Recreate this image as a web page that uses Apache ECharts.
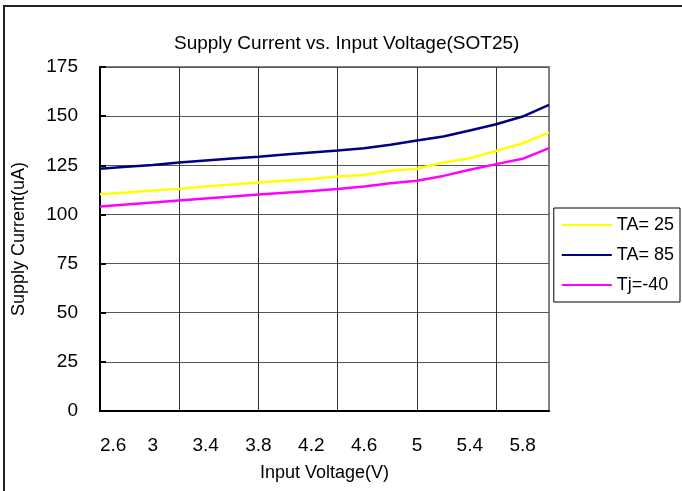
<!DOCTYPE html>
<html>
<head>
<meta charset="utf-8">
<script src="https://cdn.jsdelivr.net/npm/echarts@6/dist/echarts.min.js"></script>
<style>html,body{margin:0;padding:0;background:#fff}#c{width:682px;height:491px}</style>
</head>
<body>
<div id="c"></div>
<script>
var voltages = ['2.6','2.8','3','3.2','3.4','3.6','3.8','4','4.2','4.4','4.6','4.8','5','5.2','5.4','5.6','5.8','6'];
var ta25 = [110.3,111.2,112.2,113.0,114.2,115.2,116.2,117.1,118.0,119.3,120.1,122.2,123.2,126.4,128.6,132.3,136.2,141.6];
var ta85 = [123.2,124.2,125.2,126.4,127.4,128.4,129.4,130.5,131.5,132.5,133.7,135.4,137.6,139.6,142.7,145.9,149.8,155.7];
var tjm40 = [104.0,105.1,106.1,107.1,108.1,109.1,110.1,111.0,111.9,112.9,114.2,115.9,117.1,119.6,122.7,125.6,128.3,133.7];
var seriesNames = ['TA= 25','TA= 85','Tj=-40'];
var yTicks = {min:0, max:175, interval:25};

var FONT = 'Liberation Sans, Arial, sans-serif';
var chart = echarts.init(document.getElementById('c'));
function line(name, data, color){
  return {name:name, type:'line', data:data, symbol:'none', showSymbol:false,
    lineStyle:{color:color, width:2.5}, itemStyle:{color:color}, animation:false};
}
chart.setOption({
  animation:false,
  backgroundColor:'#fff',
  title:{text:'Supply Current vs. Input Voltage(SOT25)', left:174, top:34, padding:0,
    textStyle:{fontFamily:FONT, fontSize:19, fontWeight:'normal', color:'#000'}},
  grid:{left:100, right:133, top:67, bottom:80, show:true, borderColor:'#808080', borderWidth:2, backgroundColor:'transparent'},
  legend:{orient:'vertical', right:2, top:208, padding:[8,6,8,8], itemGap:12, itemWidth:50, itemHeight:14,
    borderColor:'#000', borderWidth:1, icon:'path://M0,6 L50,6 L50,8 L0,8 Z',
    textStyle:{fontFamily:FONT, fontSize:18, color:'#000', padding:[0,0,0,0]},
    data:seriesNames},
  xAxis:{type:'category', data:voltages, boundaryGap:false,
    name:'Input Voltage(V)', nameLocation:'middle', nameGap:53,
    nameTextStyle:{fontFamily:FONT, fontSize:18, color:'#000'},
    axisLine:{lineStyle:{color:'#000', width:2}}, axisTick:{show:false},
    axisLabel:{interval:1, margin:25, fontFamily:FONT, fontSize:19, color:'#000', alignMinLabel:'left'},
    splitLine:{show:true, interval:2, lineStyle:{color:'#333', width:1}}},
  yAxis:{type:'value', min:yTicks.min, max:yTicks.max, interval:yTicks.interval,
    name:'Supply Current(uA)', nameLocation:'middle', nameGap:72,
    nameTextStyle:{fontFamily:FONT, fontSize:18, color:'#000'},
    axisLine:{show:true, lineStyle:{color:'#000', width:2}},
    axisTick:{show:true, inside:true, length:6, lineStyle:{color:'#000', width:2}},
    axisLabel:{margin:22, fontFamily:FONT, fontSize:19, color:'#000'},
    splitLine:{show:true, lineStyle:{color:'#555', width:1}}},
  graphic:[{type:'rect', shape:{x:4, y:6, width:720, height:520}, style:{fill:null, stroke:'#222', lineWidth:2}, silent:true, z:100}],
  series:[line(seriesNames[0], ta25, '#FFFF00'), line(seriesNames[1], ta85, '#000080'), line(seriesNames[2], tjm40, '#FF00FF')]
});
</script>
</body>
</html>
